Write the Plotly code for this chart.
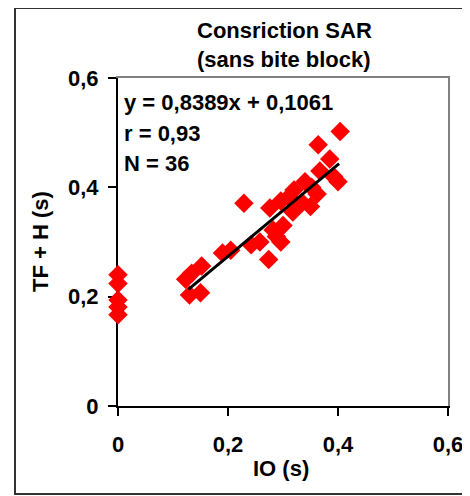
import plotly.graph_objects as go

# ---- data ----
io_zero = [0.0, 0.0, 0.0, 0.0, 0.0]
tfh_zero = [0.240, 0.224, 0.194, 0.181, 0.167]

io_vals = [0.123, 0.134, 0.152, 0.130, 0.150, 0.190, 0.205, 0.229, 0.242, 0.258,
           0.274, 0.276, 0.282, 0.300, 0.296, 0.288, 0.296, 0.310, 0.320, 0.318,
           0.335, 0.340, 0.350, 0.352, 0.362, 0.367, 0.364, 0.385, 0.404, 0.400,
           0.392]
tfh_vals = [0.232, 0.243, 0.256, 0.203, 0.207, 0.280, 0.285, 0.371, 0.295, 0.300,
            0.268, 0.362, 0.322, 0.330, 0.300, 0.310, 0.375, 0.382, 0.395, 0.355,
            0.372, 0.410, 0.365, 0.400, 0.388, 0.430, 0.478, 0.452, 0.502, 0.410,
            0.420]

slope = 0.8389
intercept = 0.1061
trend_x = [0.128, 0.402]
trend_y = [slope * v + intercept for v in trend_x]

tick_vals = [0, 0.2, 0.4, 0.6]

title_lines = ["Consriction SAR", "(sans bite block)"]
stats_lines = ["y = 0,8389x + 0,1061", "r = 0,93", "N = 36"]

FONT = "Liberation Sans, Arial, sans-serif"
OFF = 8  # default page body margin

fig = go.Figure()
fig.add_trace(go.Scatter(
    x=io_zero + io_vals, y=tfh_zero + tfh_vals, mode="markers",
    marker=dict(symbol="diamond", size=15, color="#FF0000", line=dict(width=0)),
    cliponaxis=False, showlegend=False))
fig.add_trace(go.Scatter(
    x=trend_x, y=trend_y, mode="lines",
    line=dict(color="black", width=3), showlegend=False))
# invisible trace to anchor the top/right frame axes
fig.add_trace(go.Scatter(
    x=[0], y=[0], xaxis="x2", yaxis="y2", mode="markers",
    marker=dict(opacity=0), hoverinfo="skip", showlegend=False))

axis_common = dict(
    range=[0, 0.6], tickvals=tick_vals, showgrid=False, zeroline=False,
    showline=True, linecolor="black", linewidth=2,
    ticks="outside", ticklen=8, tickwidth=2, tickcolor="black",
    tickfont=dict(family=FONT, size=22, color="black", weight="bold"),
    layer="below traces",
)
frame_axis = dict(
    range=[0, 0.6], showgrid=False, zeroline=False, showline=True,
    linecolor="#808080", linewidth=2, ticks="", showticklabels=False,
    layer="below traces",
)

W, H = 470 - OFF, 496 - OFF
L, T = 118 - OFF, 78 - OFF
R = 470 - 448
B = 496 - 406
pw, ph = W - L - R, H - T - B

def px(xp):
    return (xp - OFF - L) / pw

def py(yp):
    return (H - B - (yp - OFF)) / ph

shapes = [
    dict(type="rect", xref="paper", yref="paper",
         x0=px(15), y0=py(494), x1=px(466), y1=py(8),
         line=dict(color="#333333", width=2), layer="above"),
]

annotations = []
for txt, yy in zip(title_lines, [30, 60]):
    annotations.append(dict(text=txt, xref="paper", yref="paper", x=px(284), y=py(yy),
                            xanchor="center", yanchor="middle", showarrow=False,
                            font=dict(family=FONT, size=22, color="black", weight="bold")))
for txt, yy in zip(stats_lines, [103, 133, 163]):
    annotations.append(dict(text=txt, xref="paper", yref="paper", x=px(122), y=py(yy),
                            xanchor="left", yanchor="middle", showarrow=False,
                            font=dict(family=FONT, size=22, color="black", weight="bold")))
annotations.append(dict(text="IO (s)", xref="paper", yref="paper", x=px(281), y=py(468),
                        xanchor="center", yanchor="middle", showarrow=False,
                        font=dict(family=FONT, size=22, color="black", weight="bold")))
annotations.append(dict(text="TF + H (s)", xref="paper", yref="paper", x=px(40), y=py(242),
                        xanchor="center", yanchor="middle", showarrow=False, textangle=-90,
                        font=dict(family=FONT, size=22, color="black", weight="bold")))

fig.update_layout(
    width=W, height=H, margin=dict(l=L, r=R, t=T, b=B, autoexpand=False),
    paper_bgcolor="white", plot_bgcolor="white", separators=", ",
    xaxis=dict(**axis_common, ticklabelstandoff=10),
    yaxis=dict(**axis_common, ticklabelstandoff=5),
    xaxis2=dict(**frame_axis, overlaying="x", side="top", anchor="y2"),
    yaxis2=dict(**frame_axis, overlaying="y", side="right", anchor="x2"),
    shapes=shapes, annotations=annotations,
)

fig.write_html("out.html")
